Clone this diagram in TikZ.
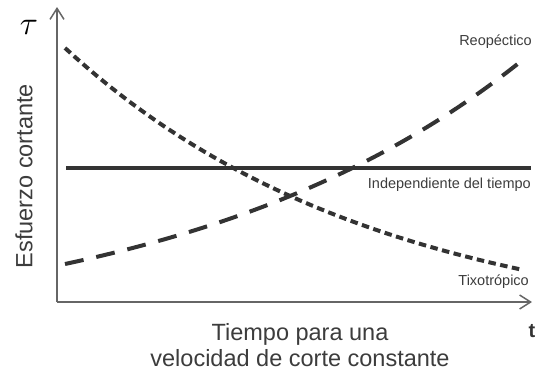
\documentclass[tikz,border=0pt]{standalone}
\usepackage{fontspec}
\setmainfont{Liberation Sans}
\usetikzlibrary{arrows.meta}
\definecolor{curvecol}{HTML}{333333}
\definecolor{txtcol}{HTML}{3C3C3C}
\definecolor{axiscol}{HTML}{666666}
\begin{document}
\begin{tikzpicture}[x=1pt,y=-1pt,
  axisline/.style={draw=axiscol,line width=1.5pt,-{Straight Barb[length=11pt,width=14pt,line width=1.5pt]}},
  tixo/.style={draw=curvecol,line width=4pt,dash pattern=on 7.5pt off 4.5pt},
  reo/.style={draw=curvecol,line width=4pt,dash pattern=on 19pt off 13pt},
  indep/.style={draw=curvecol,line width=3.5pt},
  smalllabel/.style={text=txtcol,font=\fontsize{14.5}{17}\selectfont,inner sep=0pt,anchor=east},
  biglabel/.style={text=txtcol,font=\fontsize{23.5}{26}\selectfont,inner sep=0pt}]
\useasboundingbox (0,0) rectangle (540,375);
% axes
\coordinate (O) at (57,302);
\coordinate (ytip) at (57,7);
\coordinate (xtip) at (532,302);
\draw[axisline] (O) -- (ytip);
\draw[axisline] (O) -- (xtip);
% independent line
\coordinate (ia) at (66,168);
\coordinate (ib) at (531,168);
\draw[indep] (ia) -- (ib);
% thixotropic
\draw[tixo] plot[domain=65:523,samples=120,smooth] (\x,{337-289*exp(-0.00319*(\x-65))});
% rheopectic
\draw[reo] plot[domain=65:526,samples=120,smooth] (\x,{338.4-74.4*exp(0.002877*(\x-65))});
% labels
\node[smalllabel] (lreo) at (532,42) {Reopéctico};
\node[smalllabel] (lind) at (531,185) {Independiente del tiempo};
\node[smalllabel] (ltix) at (529,282) {Tixotrópico};
\node[text=black,inner sep=0pt,scale=3.3] (tau) at (29,27) {$\tau$};
\node[text=curvecol,inner sep=0pt,font=\fontsize{20}{24}\selectfont\bfseries] (tlab) at (532,331) {t};
\node[biglabel,rotate=90] (ylab) at (24,176) {Esfuerzo cortante};
\node[biglabel,align=center] (xlab) at (300,345) {Tiempo para una\\velocidad de corte constante};
\end{tikzpicture}
\end{document}
